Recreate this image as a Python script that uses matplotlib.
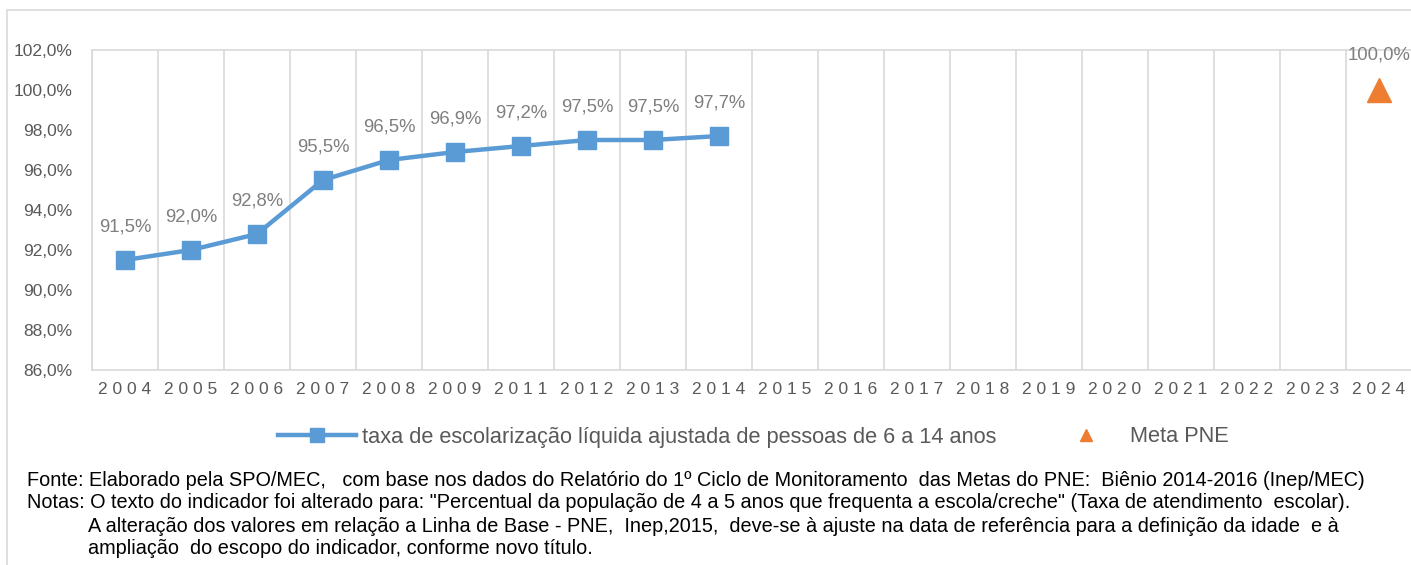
import matplotlib
matplotlib.use("Agg")
import matplotlib.pyplot as plt
from matplotlib.patches import Rectangle
from matplotlib.lines import Line2D
import numpy as np

plt.rcParams["font.family"] = ["Liberation Sans", "DejaVu Sans"]

# dados (2010 não aparece no eixo)
anos = ["2004", "2005", "2006", "2007", "2008", "2009", "2011", "2012", "2013", "2014",
        "2015", "2016", "2017", "2018", "2019", "2020", "2021", "2022", "2023", "2024"]
taxa = [91.5, 92.0, 92.8, 95.5, 96.5, 96.9, 97.2, 97.5, 97.5, 97.7]
meta_ano = "2024"
meta_valor = 100.0
yticks = [86, 88, 90, 92, 94, 96, 98, 100, 102]

fonte = ("Fonte: Elaborado pela SPO/MEC,   com base nos dados do Relatório do 1º Ciclo de Monitoramento  "
         "das Metas do PNE:  Biênio 2014-2016 (Inep/MEC)")
notas = ["Notas: O texto do indicador foi alterado para: \"Percentual da população de 4 a 5 anos que frequenta "
         "a escola/creche\" (Taxa de atendimento  escolar).",
         "A alteração dos valores em relação a Linha de Base - PNE,  Inep,2015,  deve-se à ajuste na data de "
         "referência para a definição da idade  e à",
         "ampliação  do escopo do indicador, conforme novo título."]

azul = "#5B9BD5"
laranja = "#ED7D31"
cinza = "#595959"
cinza_rot = "#7F7F7F"
grade = "#D9D9D9"

W, H = 1411, 565
fig = plt.figure(figsize=(W / 100, H / 100), dpi=100)

# moldura externa
fig.patches.append(Rectangle((7 / W, -0.1), 1.2, (H - 10) / H + 0.1, transform=fig.transFigure,
                             fill=False, edgecolor=grade, linewidth=1.2))

ax = fig.add_axes([92 / W, (H - 370) / H, 1320 / W, 320 / H])
x = np.arange(len(anos))
ax.plot(x[:len(taxa)], taxa, color=azul, linewidth=3.2, marker="s", markersize=13,
        solid_capstyle="round")
im = anos.index(meta_ano)
ax.plot([im], [meta_valor], marker="^", color=laranja, markersize=17, linestyle="none")

for xi, v in zip(x, taxa):
    ax.annotate(f"{v:.1f}%".replace(".", ","), (xi, v), xytext=(0, 23.5), textcoords="offset points",
                ha="center", va="center", color=cinza_rot, fontsize=13.3)
ax.annotate(f"{meta_valor:.1f}%".replace(".", ","), (im, meta_valor), xytext=(0, 25),
            textcoords="offset points", ha="center", va="center", color=cinza_rot, fontsize=13.3)

ax.set_xlim(-0.5, len(anos) - 0.5)
ax.set_ylim(86, 102)
ax.set_yticks(yticks)
ax.set_yticklabels([f"{v:.1f}%".replace(".", ",") for v in yticks], color=cinza, fontsize=12.5)
ax.set_xticks(x)
ax.set_xticklabels([" ".join(a) for a in anos], color=cinza, fontsize=12.5)
ax.set_xticks(np.arange(len(anos) + 1) - 0.5, minor=True)
ax.tick_params(axis="both", which="both", length=0)
ax.tick_params(axis="y", pad=14)
ax.tick_params(axis="x", pad=9)
ax.grid(axis="x", which="minor", color=grade, linewidth=1.2)
for s in ax.spines.values():
    s.set_color(grade)
    s.set_linewidth(1.2)

handles = [Line2D([0], [0], color=azul, linewidth=3.2, marker="s", markersize=10),
           Line2D([0], [0], color=laranja, marker="^", markersize=8, linestyle="none")]
fig.legend(handles, ["taxa de escolarização líquida ajustada de pessoas de 6 a 14 anos", "Meta PNE"],
           loc="center", bbox_to_anchor=(0.534, (H - 437) / H), ncol=2, frameon=False,
           fontsize=15.7, labelcolor=cinza, handlelength=3.6, columnspacing=2.3, handletextpad=0.25)

fs = 14.3
fig.text(27 / W, (H - 481) / H, fonte, ha="left", va="center", fontsize=fs)
fig.text(27 / W, (H - 503) / H, notas[0], ha="left", va="center", fontsize=fs)
fig.text(88 / W, (H - 526) / H, notas[1], ha="left", va="center", fontsize=fs)
fig.text(88 / W, (H - 549) / H, notas[2], ha="left", va="center", fontsize=fs)

fig.savefig("out.png", dpi=100)
